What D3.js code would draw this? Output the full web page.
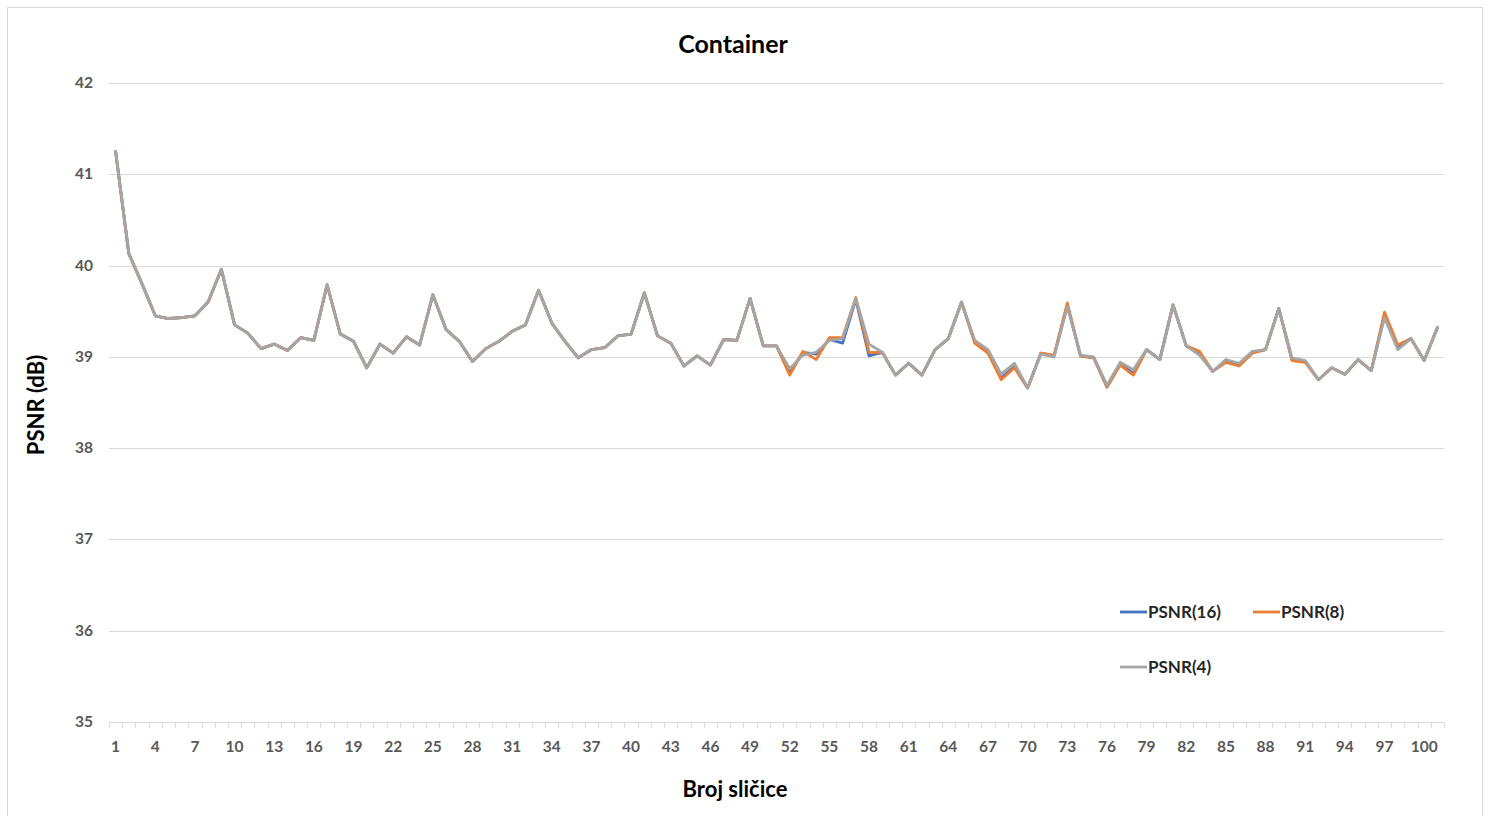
<!DOCTYPE html>
<html>
<head>
<meta charset="utf-8">
<script src="https://cdn.jsdelivr.net/npm/d3@7"></script>
<style>
  html, body { margin: 0; padding: 0; background: #fff; font-family: Lato, "Open Sans", sans-serif; }
  svg { display: block; }
</style>
</head>
<body>
<div id="chart"></div>
<script>
// Frame numbers 1..101
const frames = d3.range(1, 102);

// PSNR(4) - grey line
const psnr4 = [
  41.25, 40.13, 39.80, 39.45, 39.42, 39.43, 39.45, 39.60, 39.96, 39.35,
  39.26, 39.09, 39.14, 39.07, 39.21, 39.18, 39.79, 39.25, 39.17, 38.88,
  39.14, 39.04, 39.22, 39.13, 39.68, 39.30, 39.17, 38.95, 39.09, 39.17,
  39.28, 39.35, 39.73, 39.37, 39.17, 38.99, 39.08, 39.10, 39.23, 39.25,
  39.70, 39.23, 39.15, 38.90, 39.01, 38.91, 39.19, 39.18, 39.64, 39.12,
  39.12, 38.87, 39.02, 39.05, 39.18, 39.20, 39.64, 39.14, 39.05, 38.80,
  38.93, 38.80, 39.08, 39.20, 39.60, 39.18, 39.08, 38.81, 38.93, 38.66,
  39.03, 39.00, 39.55, 39.02, 39.00, 38.69, 38.94, 38.86, 39.08, 38.97,
  39.57, 39.12, 39.02, 38.84, 38.97, 38.93, 39.06, 39.08, 39.53, 38.99,
  38.96, 38.75, 38.88, 38.81, 38.97, 38.85, 39.43, 39.08, 39.20, 38.96,
  39.32
];

// PSNR(8) - orange line
const psnr8 = [
  41.25, 40.13, 39.80, 39.45, 39.42, 39.43, 39.45, 39.60, 39.96, 39.35,
  39.26, 39.09, 39.14, 39.07, 39.21, 39.18, 39.79, 39.25, 39.17, 38.88,
  39.14, 39.04, 39.22, 39.13, 39.68, 39.30, 39.17, 38.95, 39.09, 39.17,
  39.28, 39.35, 39.73, 39.37, 39.17, 38.99, 39.08, 39.10, 39.23, 39.25,
  39.70, 39.23, 39.15, 38.90, 39.01, 38.91, 39.19, 39.18, 39.64, 39.12,
  39.12, 38.80, 39.06, 38.97, 39.21, 39.21, 39.65, 39.05, 39.05, 38.80,
  38.93, 38.80, 39.08, 39.20, 39.60, 39.15, 39.04, 38.75, 38.88, 38.66,
  39.04, 39.02, 39.59, 39.01, 38.99, 38.67, 38.91, 38.80, 39.08, 38.97,
  39.57, 39.12, 39.06, 38.84, 38.94, 38.90, 39.04, 39.08, 39.53, 38.96,
  38.94, 38.75, 38.88, 38.81, 38.97, 38.85, 39.49, 39.13, 39.20, 38.96,
  39.32
];

// PSNR(16) - blue line (mostly hidden under the others)
const psnr16 = [
  41.25, 40.13, 39.80, 39.45, 39.42, 39.43, 39.45, 39.60, 39.96, 39.35,
  39.26, 39.09, 39.14, 39.07, 39.21, 39.18, 39.79, 39.25, 39.17, 38.88,
  39.14, 39.04, 39.22, 39.13, 39.68, 39.30, 39.17, 38.95, 39.09, 39.17,
  39.28, 39.35, 39.73, 39.37, 39.17, 38.99, 39.08, 39.10, 39.23, 39.25,
  39.70, 39.23, 39.15, 38.90, 39.01, 38.91, 39.19, 39.18, 39.64, 39.12,
  39.12, 38.82, 39.05, 39.03, 39.19, 39.15, 39.63, 39.01, 39.05, 38.80,
  38.93, 38.80, 39.08, 39.20, 39.60, 39.16, 39.05, 38.77, 38.89, 38.66,
  39.04, 39.01, 39.57, 39.01, 38.99, 38.67, 38.92, 38.82, 39.08, 38.97,
  39.57, 39.12, 39.04, 38.84, 38.95, 38.91, 39.05, 39.08, 39.53, 38.97,
  38.95, 38.75, 38.88, 38.81, 38.97, 38.85, 39.46, 39.10, 39.20, 38.96,
  39.32
];

const yTicks = [35, 36, 37, 38, 39, 40, 41, 42];

const series = [
  { name: 'PSNR(16)', values: psnr16, color: '#4472C4' },
  { name: 'PSNR(8)', values: psnr8, color: '#ED7D31' },
  { name: 'PSNR(4)', values: psnr4, color: '#A5A5A5' }
];

const width = 1489, height = 816;
const margin = { top: 83, right: 45, bottom: 94, left: 109 };
const innerWidth = width - margin.left - margin.right;
const innerHeight = height - margin.top - margin.bottom;

const svg = d3.select('#chart')
  .append('svg')
  .attr('width', width)
  .attr('height', height);

// Chart frame (bottom edge lies outside the picture)
svg.append('path')
  .attr('d', 'M7.5,816 V7.5 H1482.5 V816')
  .attr('fill', 'none')
  .attr('stroke', '#d9d9d9');

const g = svg.append('g')
  .attr('transform', `translate(${margin.left},${margin.top})`);

// Scales
const xScale = d3.scaleBand()
  .domain(frames)
  .range([0, innerWidth]);

const yScale = d3.scaleLinear()
  .domain([35, 42])
  .range([innerHeight, 0]);

const xPos = i => xScale(frames[i]) + xScale.bandwidth() / 2;

// Gridlines
g.append('g')
  .selectAll('line')
  .data(yTicks.filter(t => t !== 35))
  .enter()
  .append('line')
  .attr('x1', 0).attr('x2', innerWidth)
  .attr('y1', d => Math.round(yScale(d)) + 0.5)
  .attr('y2', d => Math.round(yScale(d)) + 0.5)
  .attr('stroke', '#d9d9d9')
  .attr('stroke-width', 1);

// Y tick labels
g.append('g')
  .selectAll('text')
  .data(yTicks)
  .enter()
  .append('text')
  .attr('x', -16)
  .attr('y', d => yScale(d) + 5)
  .attr('text-anchor', 'end')
  .style('fill', '#595959')
  .style('font-size', '15.5px')
  .style('font-weight', 'bold')
  .text(d => d);

// X axis line and ticks at category boundaries
const xAxisG = g.append('g')
  .attr('transform', `translate(0,${Math.round(innerHeight) + 0.5})`);

xAxisG.append('line')
  .attr('x1', 0).attr('x2', innerWidth)
  .attr('stroke', '#d9d9d9');

xAxisG.selectAll('.tick-mark')
  .data(d3.range(frames.length + 1))
  .enter()
  .append('line')
  .attr('class', 'tick-mark')
  .attr('x1', i => Math.round(i * xScale.step()) + 0.5)
  .attr('x2', i => Math.round(i * xScale.step()) + 0.5)
  .attr('y1', 0).attr('y2', 5)
  .attr('stroke', '#d9d9d9');

xAxisG.selectAll('.tick-label')
  .data(frames.filter((d, i) => i % 3 === 0))
  .enter()
  .append('text')
  .attr('class', 'tick-label')
  .attr('x', d => xScale(d) + xScale.bandwidth() / 2)
  .attr('y', 29)
  .attr('text-anchor', 'middle')
  .style('fill', '#595959')
  .style('font-size', '15.5px')
  .style('font-weight', 'bold')
  .text(d => d);

// Lines
const line = d3.line()
  .x((d, i) => xPos(i))
  .y(d => yScale(d));

series.forEach(s => {
  g.append('path')
    .datum(s.values)
    .attr('fill', 'none')
    .attr('stroke', s.color)
    .attr('stroke-width', 2.8)
    .attr('stroke-linejoin', 'round')
    .attr('stroke-linecap', 'round')
    .attr('d', line);
});

// Titles
svg.append('text')
  .attr('x', 733)
  .attr('y', 53)
  .attr('text-anchor', 'middle')
  .style('fill', '#000')
  .style('font-size', '25px')
  .style('font-weight', 'bold')
  .text('Container');

svg.append('text')
  .attr('x', 735)
  .attr('y', 797)
  .attr('text-anchor', 'middle')
  .style('fill', '#000')
  .style('font-size', '22px')
  .style('font-weight', 'bold')
  .text('Broj sličice');

svg.append('text')
  .attr('transform', 'rotate(-90)')
  .attr('x', -405)
  .attr('y', 44)
  .attr('text-anchor', 'middle')
  .style('fill', '#000')
  .style('font-size', '22px')
  .style('font-weight', 'bold')
  .text('PSNR (dB)');

// Legend
const legendItems = [
  { s: series[0], x: 1120, y: 612 },
  { s: series[1], x: 1253, y: 612 },
  { s: series[2], x: 1120, y: 667 }
];

const legend = svg.append('g');
legendItems.forEach(item => {
  legend.append('line')
    .attr('x1', item.x).attr('x2', item.x + 27)
    .attr('y1', item.y).attr('y2', item.y)
    .attr('stroke', item.s.color)
    .attr('stroke-width', 2.8);
  legend.append('text')
    .attr('x', item.x + 28)
    .attr('y', item.y + 6)
    .style('fill', '#262626')
    .style('font-size', '17px')
    .style('font-weight', 'bold')
    .text(item.s.name);
});
</script>
</body>
</html>
